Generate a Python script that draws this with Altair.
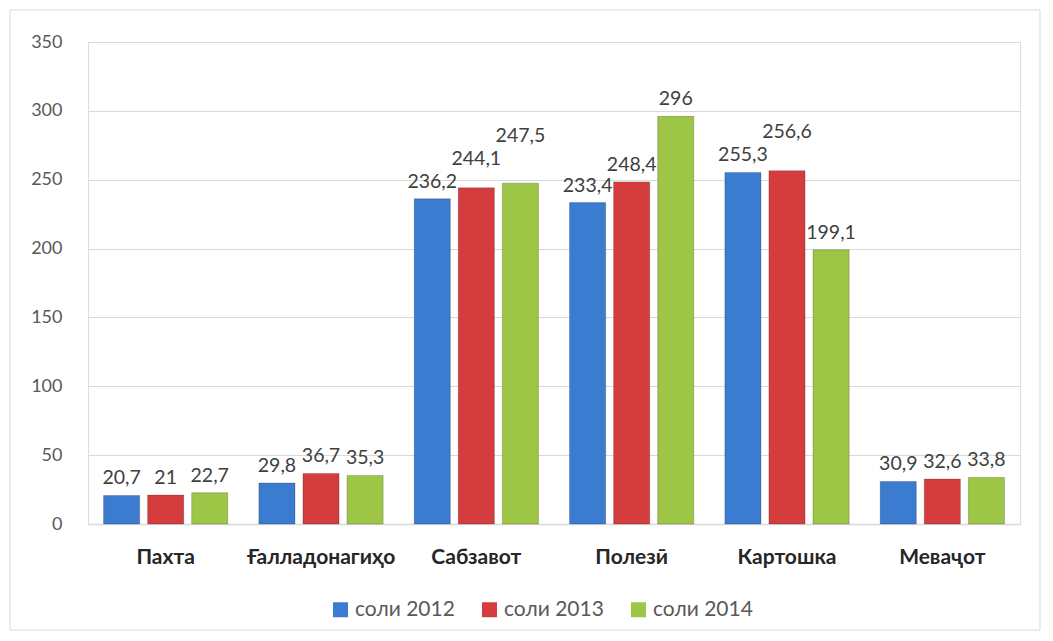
import altair as alt
import pandas as pd

categories = ["Пахта", "Ғалладонагиҳо", "Сабзавот", "Полезӣ", "Картошка", "Меваҷот"]
series = ["соли 2012", "соли 2013", "соли 2014"]
v2012 = [20.7, 29.8, 236.2, 233.4, 255.3, 30.9]
v2013 = [21, 36.7, 244.1, 248.4, 256.6, 32.6]
v2014 = [22.7, 35.3, 247.5, 296, 199.1, 33.8]
colors = ["#3B7BD0", "#D43C3D", "#9DC646"]

FONT = "Lato"
W, H, YMAX = 932, 482, 350
LABEL_SIZE = 19.5

# layout helper: stagger data labels that would collide (like Excel's placement)
k = H / YMAX
bar_step = (W / (6 - 0.2 + 0.2)) * 0.8 / (3 - 0.18)


def text_w(s):
    return sum(0.58 if ch.isdigit() else 0.24 for ch in s) * LABEL_SIZE


series_vals = [v2012, v2013, v2014]
rows = []
for ci, c in enumerate(categories):
    prev = None
    for si, s in enumerate(series):
        v = series_vals[si][ci]
        lab = (f"{v:g}").replace(".", ",")
        px = v * k + 11
        if prev is not None:
            ppx, pw = prev
            if (pw + text_w(lab)) / 2 > bar_step and abs(px - ppx) < 20:
                px = ppx + 23
        prev = (px, text_w(lab))
        rows.append({"cat": c, "series": s, "value": v, "label": lab,
                     "label_pos": px / k})
df = pd.DataFrame(rows)

base = alt.Chart(df).encode(
    x=alt.X("cat:N", sort=categories, title=None,
            scale=alt.Scale(paddingInner=0.2, paddingOuter=0.1),
            axis=alt.Axis(labelAngle=0, labelFontWeight="bold", labelFontSize=21,
                          labelColor="#262626", labelPadding=22, ticks=False,
                          domainColor="#D9D9D9", domainWidth=1.5, labelFont=FONT)),
    xOffset=alt.XOffset("series:N", sort=series,
                        scale=alt.Scale(paddingInner=0.18, paddingOuter=0)),
)

yscale = alt.Scale(domain=[0, YMAX], nice=False)

bars = base.mark_bar(stroke="#00000033", strokeWidth=1).encode(
    y=alt.Y("value:Q", title=None, scale=yscale,
            axis=alt.Axis(values=list(range(0, 351, 50)), labelFontSize=18,
                          labelColor="#595959", labelFont=FONT, domain=False,
                          ticks=False, gridColor="#D9D9D9", labelPadding=26)),
    color=alt.Color("series:N", sort=series,
                    scale=alt.Scale(domain=series, range=colors),
                    legend=alt.Legend(orient="none", legendX=242, legendY=557,
                                      direction="horizontal", title=None,
                                      symbolType="square", symbolSize=225,
                                      labelFontSize=21, labelColor="#595959",
                                      labelFont=FONT, columnPadding=24,
                                      labelOffset=4, symbolStrokeWidth=0)),
)

labels = base.mark_text(baseline="alphabetic", fontSize=LABEL_SIZE,
                        color="#404040", font=FONT).encode(
    y=alt.Y("label_pos:Q", scale=yscale),
    text="label:N",
)

frame = alt.Chart(pd.DataFrame({"a": [1]})).mark_rect(
    fill=None, stroke="#D9D9D9", strokeWidth=1
).encode(x=alt.value(-78), x2=alt.value(952), y=alt.value(-32), y2=alt.value(588))

chart = alt.layer(frame, bars, labels).properties(
    width=W, height=H,
    autosize=alt.AutoSizeParams(type="none"),
    padding={"left": 80, "top": 34, "right": 25, "bottom": 110},
).configure_view(stroke=None).configure(background="white")

chart.save("out.html", embed_options={"renderer": "svg", "actions": False})
